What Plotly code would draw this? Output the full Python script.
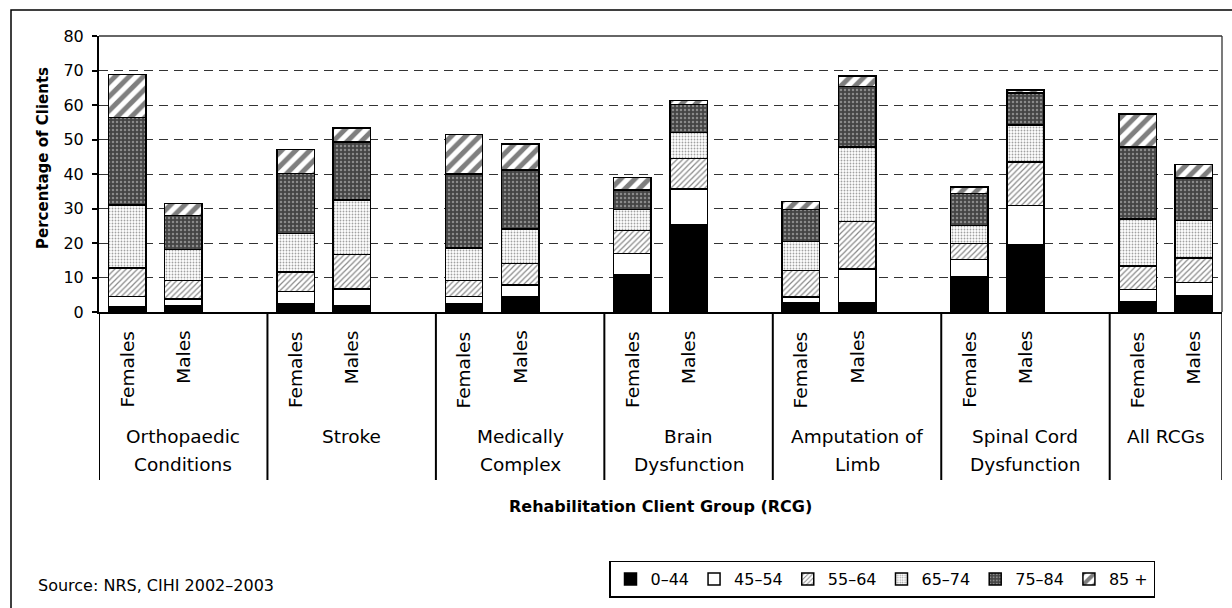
import plotly.graph_objects as go

# ---------------- data ----------------
GROUP_LINES = [
    ("Orthopaedic", "Conditions"),
    ("Stroke", ""),
    ("Medically", "Complex"),
    ("Brain", "Dysfunction"),
    ("Amputation of", "Limb"),
    ("Spinal Cord", "Dysfunction"),
    ("All RCGs", ""),
]
SEXES = ["Females", "Males"]
AGE_GROUPS = ["0\u201344", "45\u201354", "55\u201364", "65\u201374", "75\u201384", "85 +"]

# values per bar (order: Ortho F, Ortho M, Stroke F, Stroke M, Med F, Med M,
# Brain F, Brain M, Amp F, Amp M, Spinal F, Spinal M, All F, All M)
age_0_44 = [1.6, 1.9, 2.3, 1.8, 2.3, 4.4, 10.8, 25.2, 2.6, 2.8, 10.3, 19.4, 3.1, 4.7]
age_45_54 = [2.9, 1.9, 3.7, 4.9, 2.2, 3.5, 6.1, 10.4, 1.8, 9.7, 4.9, 11.5, 3.4, 3.9]
age_55_64 = [8.3, 5.4, 5.6, 9.9, 4.6, 6.1, 6.7, 8.9, 7.7, 13.8, 4.7, 12.6, 6.8, 7.1]
age_65_74 = [18.2, 8.9, 11.1, 15.8, 9.5, 10.1, 6.1, 7.5, 8.4, 21.5, 5.2, 10.7, 13.7, 10.8]
age_75_84 = [25.4, 9.9, 17.5, 16.9, 21.4, 17.1, 5.7, 8.2, 9.2, 17.5, 9.3, 9.3, 20.8, 12.3]
age_85_plus = [12.4, 3.4, 6.9, 4.1, 11.5, 7.5, 3.6, 1.1, 2.3, 3.1, 1.9, 0.8, 9.6, 4.0]

SERIES = [age_0_44, age_45_54, age_55_64, age_65_74, age_75_84, age_85_plus]

Y_TICKS = [0, 10, 20, 30, 40, 50, 60, 70, 80]

# ---------------- layout helpers ----------------
FONT = "DejaVu Sans"
W, H = 1232, 608
ML, MR, MT, MB = 99, 10, 36, 296
PW, PH = W - ML - MR, H - MT - MB


def px_x(p):
    return (p - ML) / PW


def px_y(p):
    return (H - MB - p) / PH


# slot positions: each group has Females, Males, and a blank slot
x_pos = []
for g in range(len(GROUP_LINES)):
    for s in range(len(SEXES)):
        x_pos.append(3 * g + s)
n_slots = x_pos[-1] + 1

STYLES = [
    dict(color="black", pattern=dict(shape="")),
    dict(color="white", pattern=dict(shape="")),
    dict(color="white", pattern=dict(shape="/", fgcolor="#111", bgcolor="white", size=4, solidity=0.3)),
    dict(color="white", pattern=dict(shape=".", fgcolor="#444", bgcolor="white", size=3, solidity=0.3)),
    dict(color="#444", pattern=dict(shape=".", fgcolor="#d0d0d0", bgcolor="#444", size=4, solidity=0.3)),
    dict(color="white", pattern=dict(shape="/", fgcolor="black", bgcolor="white", size=10, solidity=0.5)),
]

fig = go.Figure()
for name, vals, st in zip(AGE_GROUPS, SERIES, STYLES):
    fig.add_trace(go.Bar(
        x=x_pos, y=vals, name=name, width=0.667,
        marker=dict(color=st["color"], pattern=st["pattern"],
                    line=dict(color="black", width=1.5)),
    ))

shapes = []
# group dividers extending below the plot
bottom = px_y(480)
bounds = [-0.5] + [3 * g + 2.5 for g in range(len(GROUP_LINES) - 1)] + [n_slots - 0.5]
for i, b in enumerate(bounds):
    shapes.append(dict(type="line", xref="x", yref="paper", x0=b, x1=b, y0=0, y1=bottom,
                       line=dict(color="black", width=1.5 if i == len(bounds) - 1 else 2)))
# top and right plot border
shapes.append(dict(type="line", xref="paper", yref="paper", x0=0, x1=1, y0=1, y1=1,
                   line=dict(color="#333", width=1.3)))
shapes.append(dict(type="line", xref="paper", yref="paper", x0=1, x1=1, y0=0, y1=1,
                   line=dict(color="#333", width=1.3)))
# outer chart frame (only its top and left edges fall inside the picture)
shapes.append(dict(type="rect", xref="paper", yref="paper",
                   x0=px_x(11), x1=px_x(1245), y0=px_y(10), y1=px_y(620),
                   line=dict(color="black", width=1.5)))

annotations = []
for i, x in enumerate(x_pos):
    annotations.append(dict(
        x=x, xref="x", y=px_y(329), yref="paper", text=SEXES[i % 2], textangle=-90,
        showarrow=False, xanchor="center", yanchor="top",
        font=dict(family=FONT, size=18.5, color="black")))
for g, (l1, l2) in enumerate(GROUP_LINES):
    first = 3 * g
    last = min(3 * g + 2, n_slots - 1)
    cx = (first + last) / 2
    for txt, yy in ((l1, 436.7), (l2, 464)):
        if txt:
            annotations.append(dict(
                x=cx, xref="x", y=px_y(yy), yref="paper", text=txt, showarrow=False,
                xanchor="center", yanchor="middle",
                font=dict(family=FONT, size=18.5, color="black")))

annotations.append(dict(
    x=0.5, xref="paper", y=px_y(506), yref="paper",
    text="<b>Rehabilitation Client Group (RCG)</b>", showarrow=False,
    xanchor="center", yanchor="middle", font=dict(family=FONT, size=16, color="black")))
annotations.append(dict(
    x=px_x(43), xref="paper", y=px_y(158), yref="paper",
    text="<b>Percentage of Clients</b>", textangle=-90, showarrow=False,
    xanchor="center", yanchor="middle", font=dict(family=FONT, size=15, color="black")))
annotations.append(dict(
    x=px_x(36), xref="paper", y=px_y(585), yref="paper",
    text="Source: NRS, CIHI 2002\u20132003", showarrow=False,
    xanchor="left", yanchor="middle", font=dict(family=FONT, size=16, color="black")))

fig.update_layout(
    width=W, height=H,
    margin=dict(l=ML, r=MR, t=MT, b=MB),
    barmode="stack",
    plot_bgcolor="white", paper_bgcolor="white",
    font=dict(family=FONT, color="black"),
    showlegend=True,
    legend=dict(
        orientation="h", x=px_x(882), xanchor="center", y=px_y(579), yanchor="middle",
        bgcolor="white", bordercolor="black", borderwidth=1.5,
        font=dict(family=FONT, size=16, color="black"),
        itemwidth=30, traceorder="normal",
    ),
    xaxis=dict(range=[-0.5, n_slots - 0.5], showticklabels=False, ticks="",
               showgrid=False, zeroline=False, showline=True, linecolor="black", linewidth=2),
    yaxis=dict(range=[0, 80], tickvals=Y_TICKS, showgrid=True, gridcolor="#333", gridwidth=1,
               griddash="9px,6px", zeroline=False, showline=True, linecolor="black", linewidth=2,
               ticks="outside", ticklen=5, tickwidth=1.5, tickcolor="black",
               ticklabelstandoff=5,
               tickfont=dict(family=FONT, size=16, color="black")),
    shapes=shapes,
    annotations=annotations,
)

fig.write_html("out.html")
